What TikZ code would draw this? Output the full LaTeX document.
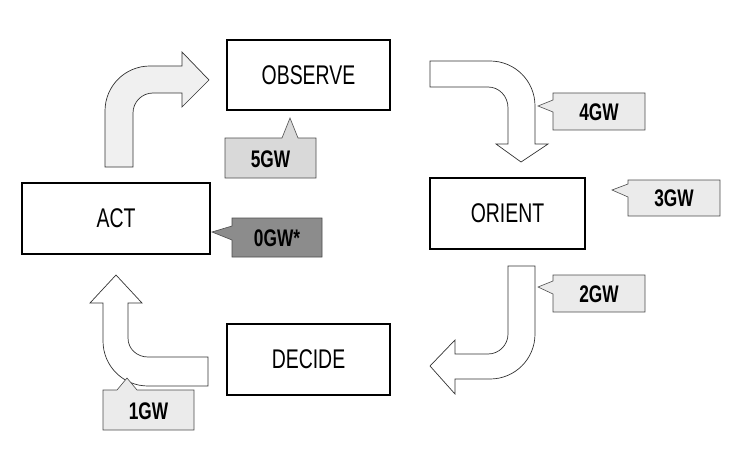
\documentclass[tikz,border=0pt]{standalone}
\usepackage{fontspec}
\setmainfont{Liberation Sans}[FakeStretch=0.72]
\begin{document}
\begin{tikzpicture}[x=1pt,y=-1pt,line join=miter,
  box/.style={draw,line width=1.3pt,fill=white,font=\fontsize{27}{27}\selectfont},
  call/.style={draw=black!70,line width=0.6pt},
  ctext/.style={font=\fontsize{24}{24}\selectfont\bfseries},
  arr/.style={draw=black!80,line width=0.7pt}]
\useasboundingbox (0,0) rectangle (733,468);
\node[box,minimum width=163,minimum height=70] (obs) at (308.5,75) {OBSERVE};
\node[box,minimum width=155,minimum height=71] (ori) at (507.5,213.5) {ORIENT};
\node[box,minimum width=163,minimum height=71] (dec) at (308.5,359.5) {DECIDE};
\node[box,minimum width=188,minimum height=71] (act) at (116,218.5) {ACT};
% block arrows
\path[arr,fill=black!6] (105,167) -- (105,111) .. controls (105,86) and (125,66) .. (150,66) -- (182,66) -- (182,52) -- (209,80) -- (182,107) -- (182,93) -- (153,93) .. controls (142,93) and (133,102) .. (133,113) -- (133,167) -- cycle;
\path[arr,fill=white] (430,61) -- (490,61) .. controls (515,61) and (535,81) .. (535,106) -- (535,144) -- (548,144) -- (521,162) -- (496,144) -- (508,144) -- (508,108) .. controls (508,96) and (499,87) .. (488,87) -- (430,87) -- cycle;
\path[arr,fill=white] (508,266) -- (535,266) -- (535,334) .. controls (535,359) and (515,379) .. (490,379) -- (455,379) -- (455,394) -- (430,366) -- (455,340) -- (455,354) -- (488,354) .. controls (499,354) and (508,345) .. (508,334) -- cycle;
\path[arr,fill=white] (208,386) -- (148,386) .. controls (123,386) and (103,366) .. (103,341) -- (103,303) -- (90,303) -- (116,275) -- (142,303) -- (128,303) -- (128,338) .. controls (128,349) and (137,357) .. (148,357) -- (208,357) -- cycle;
% callouts
\path[call,fill=black!15] (225,138) -- (282,138) -- (290,118) -- (298,138) -- (316,138) -- (316,178) -- (225,178) -- cycle;
\node[ctext] (g5) at (270.5,159) {5GW};
\path[call,fill=black!8] (553,93) -- (645,93) -- (645,130) -- (553,130) -- (553,112) -- (538,106) -- (553,100) -- cycle;
\node[ctext] (g4) at (599,112) {4GW};
\path[call,fill=black!8] (628,180) -- (720,180) -- (720,216) -- (628,216) -- (628,197) -- (612,190) -- (628,184) -- cycle;
\node[ctext] (g3) at (674,198) {3GW};
\path[call,fill=black!8] (553,275) -- (645,275) -- (645,312) -- (553,312) -- (553,294) -- (538,287) -- (553,281) -- cycle;
\node[ctext] (g2) at (599,294) {2GW};
\path[call,fill=black!45] (232,218) -- (322,218) -- (322,257) -- (232,257) -- (232,240) -- (212,232) -- (232,226) -- cycle;
\node[ctext] (g0) at (277,238) {0GW*};
\path[call,fill=black!8] (103,390) -- (117,390) -- (127,378) -- (137,390) -- (194,390) -- (194,430) -- (103,430) -- cycle;
\node[ctext] (g1) at (148.5,411) {1GW};
\end{tikzpicture}
\end{document}
